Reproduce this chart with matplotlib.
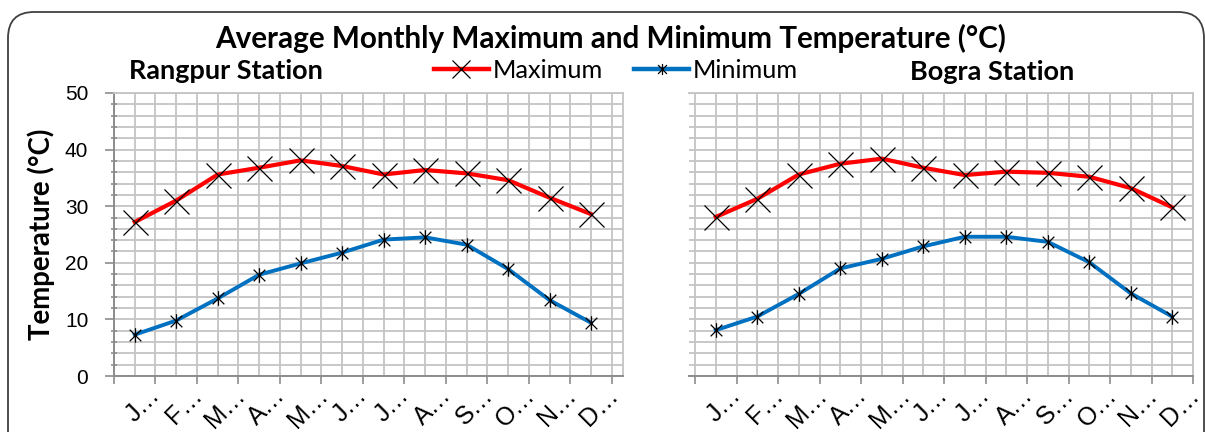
import numpy as np
import matplotlib
matplotlib.use("Agg")
import matplotlib.pyplot as plt
from matplotlib.patches import FancyBboxPatch
from matplotlib.path import Path
from matplotlib.transforms import IdentityTransform, offset_copy
from matplotlib.lines import Line2D

# data
month_labels = ['J…', 'F…', 'M…', 'A…', 'M…', 'J…', 'J…', 'A…', 'S…', 'O…', 'N…', 'D…']
rangpur_max = [27.2, 31.0, 35.6, 36.8, 38.1, 37.1, 35.6, 36.4, 35.8, 34.6, 31.5, 28.6]
rangpur_min = [7.3, 9.8, 13.7, 17.9, 19.9, 21.8, 24.1, 24.5, 23.2, 18.9, 13.4, 9.4]
bogra_max = [28.1, 31.3, 35.6, 37.5, 38.4, 36.8, 35.5, 36.1, 35.9, 35.2, 33.2, 29.8]
bogra_min = [8.1, 10.5, 14.5, 19.0, 20.7, 22.9, 24.6, 24.6, 23.7, 20.1, 14.6, 10.5]

W, H = 1205, 432
fig = plt.figure(figsize=(W / 100, H / 100), dpi=100)

BOLD = ['Lato', 'DejaVu Sans']
ARIAL = ['Liberation Sans', 'DejaVu Sans']

# Excel-like star marker: x with a vertical bar
star = Path([(-1, -1), (1, 1), (-1, 1), (1, -1), (0, -1.25), (0, 1.25)],
            [Path.MOVETO, Path.LINETO, Path.MOVETO, Path.LINETO, Path.MOVETO, Path.LINETO])


def ax_rect(x0, x1, y0, y1):
    return [x0 / W, 1 - y1 / H, (x1 - x0) / W, (y1 - y0) / H]


def setup(ax, xlim, show_y):
    ax.set_xlim(*xlim)
    ax.set_ylim(0, 50)
    n = len(month_labels)
    x = np.arange(n)
    for v in np.arange(-0.5, n, 0.5):
        ax.axvline(v, color='#c4c4c4', lw=1.3, zorder=0)
    for v in range(0, 51, 2):
        ax.axhline(v, color='#c4c4c4', lw=1.3, zorder=0)
    for s in ['top', 'right', 'left']:
        ax.spines[s].set_color('#c4c4c4')
        ax.spines[s].set_linewidth(1.3)
    ax.spines['bottom'].set_color('#8c8c8c')
    ax.spines['bottom'].set_linewidth(1.4)
    ax.set_xticks(np.arange(-0.5, n, 1))
    ax.set_xticklabels([])
    ax.tick_params(axis='x', direction='out', length=6, width=1.2, color='#8c8c8c')
    # category labels at the centres
    off = offset_copy(ax.get_xaxis_transform(), fig=fig, x=8, y=-7, units='dots')
    for xi, lab in zip(x, month_labels):
        ax.text(xi, 0, lab, transform=off, rotation=45, ha='center', va='top',
                fontsize=18, family=ARIAL)
    if show_y:
        ax.spines['left'].set_color('#8c8c8c')
        ax.spines['left'].set_linewidth(1.4)
        ax.set_yticks(range(0, 51, 10))
        ax.set_yticks(range(0, 51, 2), minor=True)
        ax.tick_params(axis='y', which='major', direction='out', length=6.5, width=1.2,
                       color='#8c8c8c', labelsize=15, pad=12)
        ax.tick_params(axis='y', which='minor', direction='inout', length=5, width=1.2,
                       color='#8c8c8c')
        for t in ax.get_yticklabels():
            t.set_family(ARIAL)
    else:
        ax.spines['left'].set_visible(False)
        ax.set_yticks([])


def plot(ax, mx, mn):
    x = np.arange(len(month_labels))
    ax.plot(x, mx, color='#ff0000', lw=3, marker='x', ms=18, mec='black', mew=0.9,
            zorder=3, clip_on=False)
    ax.plot(x, mn, color='#0070c0', lw=2.8, marker=star, ms=10.5, mec='black', mew=0.9,
            zorder=3, clip_on=False)


ax1 = fig.add_axes(ax_rect(114, 623, 93, 376))
setup(ax1, (-0.5, 11.77), True)
plot(ax1, rangpur_max, rangpur_min)
ax1.set_ylabel('Temperature (°C)', fontsize=15, fontweight='bold', family=BOLD, labelpad=7)

ax2 = fig.add_axes(ax_rect(689, 1193, 93, 376))
setup(ax2, (-0.645, 11.5), False)
plot(ax2, bogra_max, bogra_min)

title = fig.text(611 / W, 1 - 38 / H, 'Average Monthly Maximum and Minimum Temperature (°C)',
                 ha='center', va='center', fontsize=18, fontweight='bold', family=BOLD)
t1 = fig.text(226 / W, 1 - 71 / H, 'Rangpur Station', ha='center', va='center',
              fontsize=15, fontweight='bold', family=BOLD)
t2 = fig.text(992 / W, 1 - 72 / H, 'Bogra Station', ha='center', va='center',
              fontsize=15, fontweight='bold', family=BOLD)

leg_size = 18.2
px = leg_size * 100 / 72
handles = [Line2D([], [], color='#ff0000', lw=3.2, marker='x', ms=13, mec='black', mew=0.9),
           Line2D([], [], color='#0070c0', lw=3.2, marker=star, ms=8, mec='black', mew=0.9)]
fig.legend(handles, ['Maximum', 'Minimum'], loc='center', bbox_to_anchor=(616 / W, 1 - 70 / H),
           ncol=2, frameon=False, prop={'family': 'Lato', 'size': leg_size},
           handlelength=55 / px, handletextpad=4 / px, columnspacing=31 / px,
           borderpad=0, borderaxespad=0)


# fit bold texts to the widths seen in the reference
def fit(txt, width_px=None, height_px=None):
    fig.canvas.draw()
    bb = txt.get_window_extent()
    if width_px:
        txt.set_fontsize(txt.get_fontsize() * width_px / bb.width)
    else:
        txt.set_fontsize(txt.get_fontsize() * height_px / bb.height)


fit(title, width_px=793)
fit(t1, width_px=194)
fit(t2, width_px=165)
fit(ax1.yaxis.label, height_px=213)

border = FancyBboxPatch((8, -40), 1196, 460, boxstyle='round,pad=0,rounding_size=26',
                        transform=IdentityTransform(), facecolor='none', edgecolor='#404040',
                        lw=1.3)
fig.patches.append(border)

fig.savefig('out.png', dpi=100)
